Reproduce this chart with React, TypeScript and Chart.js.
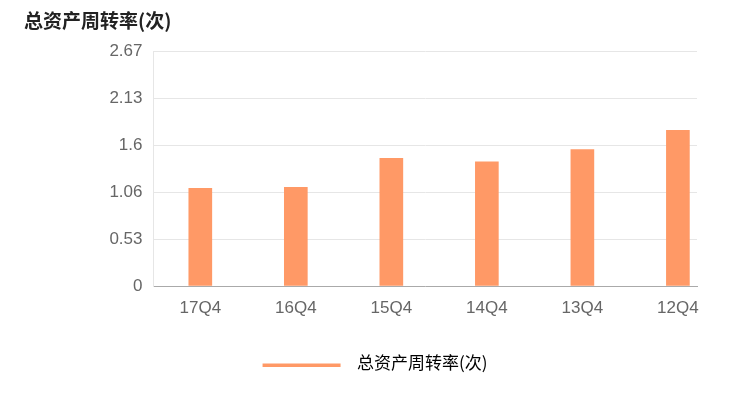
import { useEffect, useRef } from 'react';
import { Chart, registerables } from 'chart.js';

Chart.register(...registerables);

const quarters = ['17Q4', '16Q4', '15Q4', '14Q4', '13Q4', '12Q4'];
const turnover = [1.11, 1.12, 1.45, 1.41, 1.55, 1.77];
const yTickValues = [0, 0.534, 1.068, 1.602, 2.136, 2.67];
const yTickLabels = ['0', '0.53', '1.06', '1.6', '2.13', '2.67'];
const seriesName = '总资产周转率(次)';

const ORANGE = '#ff9966';
const CJK_FONT = '"Noto Sans CJK SC", sans-serif';
const LATIN_FONT = '"Liberation Sans", Arial, sans-serif';
const LEGEND_SIZE = 17;

// legend marker: a flat orange line, with blank room on the left so the item sits where the original does
const makeLegendLine = (textWidth: number) => {
  const lead = Math.max(0, Math.round(textWidth - 101));
  const c = document.createElement('canvas');
  c.width = lead + 86;
  c.height = 7;
  const g = c.getContext('2d');
  if (g) {
    g.fillStyle = ORANGE;
    g.fillRect(lead, 4, 78, 3);
  }
  return c;
};

const TurnoverChart = () => {
  const chartRef = useRef<HTMLCanvasElement | null>(null);

  useEffect(() => {
    if (!chartRef.current) return;
    const ctx = chartRef.current.getContext('2d');
    if (!ctx) return;

    ctx.font = `${LEGEND_SIZE}px ${CJK_FONT}`;
    const legendLine = makeLegendLine(ctx.measureText(seriesName).width);

    const chartInstance = new Chart(ctx, {
      type: 'bar',
      data: {
        datasets: [
          {
            label: seriesName,
            data: turnover.map((v, i) => ({ x: i, y: v })),
            backgroundColor: ORANGE,
            barThickness: 23,
          },
        ],
      },
      options: {
        animation: false,
        responsive: true,
        maintainAspectRatio: false,
        events: [],
        layout: { padding: { left: 16, right: 31, top: 0, bottom: 11.5 } },
        scales: {
          x: {
            type: 'linear',
            min: -0.49,
            max: 5.2,
            offset: false,
            afterBuildTicks: (axis) => {
              axis.ticks = quarters.map((_, i) => ({ value: i }));
            },
            afterFit: (axis) => {
              axis.height = 58.5;
            },
            grid: { display: false, drawTicks: false, offset: false },
            border: { display: true, color: '#aaaaaa' },
            ticks: {
              callback: (v) => quarters[v as number] ?? '',
              padding: 12,
              color: '#666666',
              maxRotation: 0,
              autoSkip: false,
              font: { family: LATIN_FONT, size: 17 },
            },
          },
          y: {
            min: 0,
            max: 2.67,
            afterBuildTicks: (axis) => {
              axis.ticks = yTickValues.map((value) => ({ value }));
            },
            afterFit: (axis) => {
              axis.width = 129.5;
            },
            grid: { color: '#e6e6e6', drawTicks: false },
            border: { color: '#e6e6e6' },
            ticks: {
              callback: (_v, i) => yTickLabels[i],
              padding: 11,
              color: '#666666',
              font: { family: LATIN_FONT, size: 17 },
            },
          },
        },
        plugins: {
          tooltip: { enabled: false },
          title: {
            display: true,
            text: seriesName,
            align: 'start',
            color: '#222222',
            font: { family: CJK_FONT, size: 19, weight: 'bold' },
            padding: { top: 1, bottom: 19.2 },
          },
          legend: {
            position: 'bottom',
            labels: {
              usePointStyle: true,
              pointStyleWidth: legendLine.width,
              color: '#333333',
              padding: 10,
              font: { family: CJK_FONT, size: LEGEND_SIZE },
              generateLabels: () => [
                {
                  text: seriesName,
                  pointStyle: legendLine,
                  fillStyle: ORANGE,
                  strokeStyle: ORANGE,
                  lineWidth: 0,
                  hidden: false,
                  datasetIndex: 0,
                },
              ],
            },
          },
        },
      },
    });

    return () => {
      chartInstance.destroy();
    };
  }, []);

  return (
    <div style={{ position: 'relative', width: 720, height: 385 }}>
      <canvas ref={chartRef}></canvas>
    </div>
  );
};

export default function App() {
  return <TurnoverChart />;
}
